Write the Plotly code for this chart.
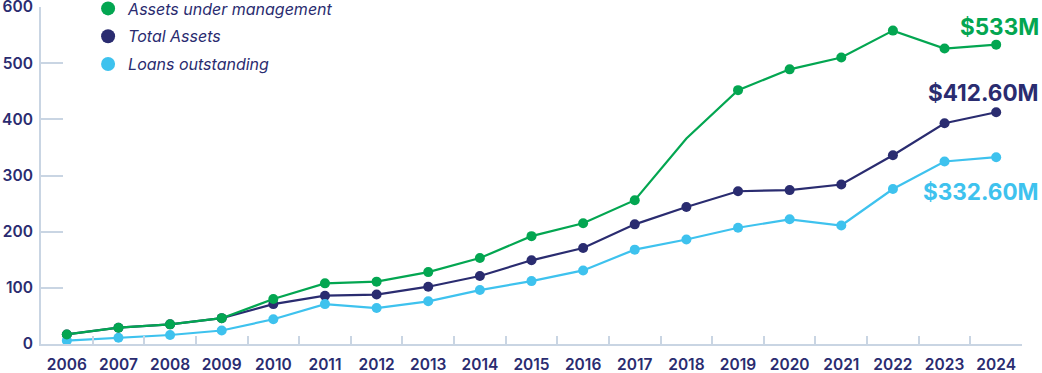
import plotly.graph_objects as go

years = [str(y) for y in range(2006, 2025)]
aum = [17, 29, 35, 46, 80, 108, 111, 128, 153, 192, 215, 256, 366, 452, 489, 510, 558, 526, 533]
total_assets = [17, 29, 35, 46, 71, 86, 88, 102, 121, 149, 171, 213, 244, 272, 274, 284, 336, 393, 412.6]
loans = [6, 11, 16, 24, 44, 71, 64, 76, 96, 112, 131, 168, 186, 207, 222, 211, 276, 325, 332.6]
names = ["Assets under management", "Total Assets", "Loans outstanding"]
end_labels = ["$533M", "$412.60M", "$332.60M"]
label_y = [566, 447, 271]

GREEN = "#03a651"
NAVY = "#2a2c70"
LBLUE = "#3ec2ee"
AXIS = "#c9d5e3"

fig = go.Figure()
aum_sizes = [10] * len(years)
aum_sizes[years.index("2018")] = 0

series = [
    (total_assets, NAVY, [10] * len(years), names[1]),
    (loans, LBLUE, [10] * len(years), names[2]),
    (aum, GREEN, aum_sizes, names[0]),
]
for vals, col, sizes, nm in series:
    fig.add_trace(go.Scatter(x=years, y=vals, mode="lines+markers",
                             line=dict(color=col, width=2.2),
                             marker=dict(color=col, size=sizes, opacity=1,
                                         line=dict(width=0)),
                             showlegend=False, hoverinfo="skip", name=nm))

for i, (nm, col) in enumerate(zip(names, [GREEN, NAVY, LBLUE])):
    fig.add_trace(go.Scatter(x=[None], y=[None], mode="markers", name=nm,
                             marker=dict(color=col, size=14, opacity=1,
                                         line=dict(width=0)),
                             legendgroup=nm, legendrank=i + 1))

for txt, yy, col in zip(end_labels, label_y, [GREEN, NAVY, LBLUE]):
    fig.add_annotation(text=txt, x=1, xref="paper", y=yy, yref="y",
                       xanchor="right", yanchor="middle", xshift=19,
                       showarrow=False,
                       font=dict(family="Inter", size=22.5, color=col, weight=700))

tickfont = dict(family="Inter", size=15.5, color=NAVY, weight=600)
fig.update_layout(
    width=1042, height=373,
    margin=dict(l=41, r=20, t=7, b=29, autoexpand=False),
    paper_bgcolor="white", plot_bgcolor="white",
    xaxis=dict(type="category", range=[-0.5, 18.5], showgrid=False,
               showline=True, linecolor=AXIS, linewidth=2,
               ticks="inside", ticklen=8, tickcolor=AXIS, tickwidth=1.5,
               tickson="boundaries", tickfont=tickfont, ticklabelstandoff=5,
               zeroline=False, automargin=False, ticklabeloverflow="allow"),
    yaxis=dict(range=[0, 600], dtick=100, showgrid=False,
               showline=True, linecolor=AXIS, linewidth=2,
               ticks="inside", ticklen=22, tickcolor=AXIS, tickwidth=1.5,
               tickfont=tickfont, ticklabelstandoff=3, zeroline=False,
               automargin=False, ticklabeloverflow="allow"),
    legend=dict(x=0.048, y=1.046, xanchor="left", yanchor="top",
                font=dict(family="Inter", size=16, color=NAVY, style="italic"),
                tracegroupgap=4, bgcolor="rgba(0,0,0,0)", borderwidth=0),
    showlegend=True,
)

fig.write_html("out.html", config={"displayModeBar": False},
               post_script="document.body.style.margin='0';document.body.style.overflow='hidden';")
